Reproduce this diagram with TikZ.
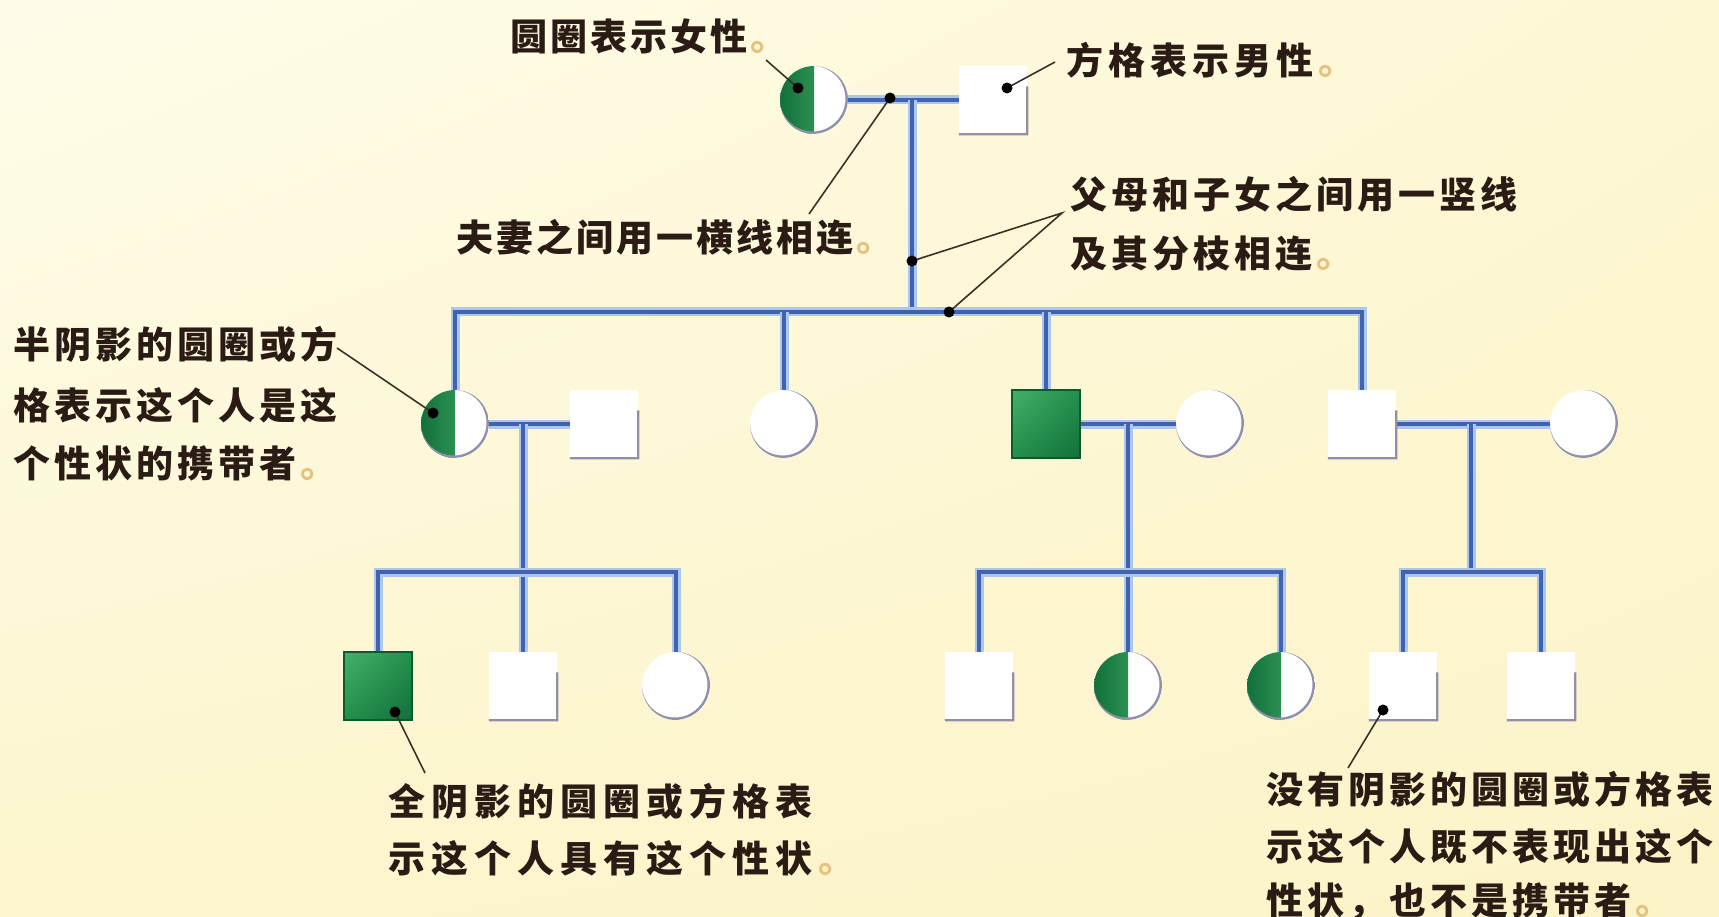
\documentclass[tikz,border=0pt]{standalone}
\usepackage{fontspec}
\newfontfamily\cjk{Noto Sans CJK SC}
\usetikzlibrary{calc,shadings}
\pgfdeclarelayer{bg}
\pgfdeclarelayer{ln}
\pgfsetlayers{bg,ln,main}
\definecolor{bgA}{HTML}{FFFDEA}
\definecolor{bgB}{HTML}{FDF7D4}
\definecolor{bgC}{HTML}{FCF5CE}
\definecolor{bgD}{HTML}{FCF3C8}
\definecolor{gDark}{HTML}{12703A}
\definecolor{gMid}{HTML}{23904C}
\definecolor{gLight}{HTML}{45B06A}
\definecolor{gEdge}{HTML}{0B5A2C}
\definecolor{pedcore}{HTML}{4262B0}
\definecolor{pedhalo}{HTML}{ABC8EC}
\definecolor{shd}{HTML}{9090AA}
\definecolor{txt}{HTML}{2A1C14}
\definecolor{dotc}{HTML}{E6C27E}
\definecolor{ptr}{HTML}{3A3226}
\makeatletter
\newcommand\spr[2]{\@tfor\@ch:=#2\do{\makebox[#1][l]{\@ch}}}
\makeatother
\newcommand\jd{\textcolor{dotc}{。}}
\newcommand\circshadow{\draw[shd,line width=2.4pt] ([xshift=-1.3pt,yshift=1.3pt]path picture bounding box.center) circle[radius=34pt];}
\begin{document}
\begin{tikzpicture}[x=1pt,y=-1pt,
  fem/.style={circle, minimum size=68pt, inner sep=0pt, fill=white, path picture={\circshadow}},
  halffem/.style={circle, minimum size=68pt, inner sep=0pt, fill=white,
    path picture={\shade[left color=gDark, right color=gLight] (path picture bounding box.south west) rectangle (path picture bounding box.north); \circshadow}},
  mal/.style={rectangle, minimum size=68pt, inner sep=0pt, fill=white},
  fullmal/.style={rectangle, minimum size=68pt, inner sep=0pt, draw=gEdge, line width=1.2pt,
    upper left=gLight, upper right=gMid, lower left=gMid, lower right=gDark},
  ped/.style={line width=3.2pt, draw=pedcore, preaction={draw=pedhalo, line width=9pt}},
  ptrline/.style={draw=ptr, line width=1.6pt},
  dotm/.style={fill=black},
  lab/.style={anchor=base west, inner sep=0pt, text=txt, font=\cjk\bfseries\fontsize{37pt}{44pt}\selectfont},
]
\useasboundingbox (0,0) rectangle (1719,917);
\begin{pgfonlayer}{bg}
\shade[upper left=bgA, upper right=bgB, lower left=bgC, lower right=bgD] (0,0) rectangle (1719,917);
\end{pgfonlayer}

% generation 1
\node[halffem] (F1) at (814,100) {};
\node[mal] (M1) at (993,100) {};
% generation 2
\node[halffem] (C1) at (455,424) {};
\node[mal] (S1) at (604,424) {};
\node[fem] (C2) at (784,424) {};
\node[fullmal] (S2) at (1046,424) {};
\node[fem] (C3) at (1210,424) {};
\node[mal] (S3) at (1362,424) {};
\node[fem] (C4) at (1584,424) {};
% generation 3
\node[fullmal] (G1) at (378,686) {};
\node[mal] (G2) at (523,686) {};
\node[fem] (G3) at (676,686) {};
\node[mal] (H1) at (979,686) {};
\node[halffem] (H2) at (1128,686) {};
\node[halffem] (H3) at (1281,686) {};
\node[mal] (K1) at (1403,686) {};
\node[mal] (K2) at (1541,686) {};

% square shadows
\foreach \n in {M1,S1,S3,G2,H1,K1,K2}
  \draw[shd, line width=2.2pt] ($(\n.north east)!0.3!(\n.south east)$) -- (\n.south east) -- (\n.south west);

% junctions
\coordinate (m1) at (912,100);
\coordinate (b1) at (912,312);
\coordinate (m2) at (523,424);
\coordinate (b2) at (523,572);
\coordinate (m3) at (1128,424);
\coordinate (b3) at (1128,572);
\coordinate (m4) at (1471,424);
\coordinate (b4) at (1471,572);

\begin{pgfonlayer}{ln}
\draw[ped] (F1) -- (M1);
\draw[ped] (m1) -- (b1);
\draw[ped] (C1.north) -- (C1.north |- b1) -- (S3.north |- b1) -- (S3.north);
\draw[ped] (C2.north) -- (C2.north |- b1);
\draw[ped] (S2.north) -- (S2.north |- b1);
\draw[ped] (C1) -- (S1);
\draw[ped] (S2) -- (C3);
\draw[ped] (S3) -- (C4);
\draw[ped] (m2) -- (G2.north);
\draw[ped] (G1.north) -- (G1.north |- b2) -- (G3.north |- b2) -- (G3.north);
\draw[ped] (m3) -- (H2.north);
\draw[ped] (H1.north) -- (H1.north |- b3) -- (H3.north |- b3) -- (H3.north);
\draw[ped] (m4) -- (b4);
\draw[ped] (K1.north) -- (K1.north |- b4) -- (K2.north |- b4) -- (K2.north);
\end{pgfonlayer}

% labels
\node[lab] (t1) at (510,51) {\spr{40pt}{圆圈表示女性}\jd};
\node[lab] (t2) at (1066,75) {\spr{42pt}{方格表示男性}\jd};
\node[lab] (t3) at (456,252) {\spr{40pt}{夫妻之间用一横线相连}\jd};
\node[lab] (t4a) at (1070,209) {\spr{41pt}{父母和子女之间用一竖线}};
\node[lab] (t4b) at (1070,268) {\spr{41pt}{及其分枝相连}\jd};
\node[lab] (t5a) at (13,358) {\spr{41pt}{半阴影的圆圈或方}};
\node[lab] (t5b) at (13,419) {\spr{41pt}{格表示这个人是这}};
\node[lab] (t5c) at (13,477) {\spr{41pt}{个性状的携带者}\jd};
\node[lab] (t6a) at (388,815) {\spr{43pt}{全阴影的圆圈或方格表}};
\node[lab] (t6b) at (388,872) {\spr{43pt}{示这个人具有这个性状}\jd};
\node[lab] (t7a) at (1266,803) {\spr{41pt}{没有阴影的圆圈或方格表}};
\node[lab] (t7b) at (1266,860) {\spr{41pt}{示这个人既不表现出这个}};
\node[lab] (t7c) at (1266,914) {\spr{41pt}{性状，也不是携带者}\jd};

% pointers
\coordinate (p1) at (766,60);   \coordinate (d1) at (798,88);
\coordinate (p2) at (1055,62);  \coordinate (d2) at (1007,88);
\coordinate (p3) at (809,214);  \coordinate (d3) at (890,98);
\coordinate (p4) at (1062,213); \coordinate (d4a) at (912,261); \coordinate (d4b) at (949,312);
\coordinate (p5) at (337,348);  \coordinate (d5) at (433,413);
\coordinate (p6) at (425,773);  \coordinate (d6) at (395,712);
\coordinate (p7) at (1348,768); \coordinate (d7) at (1383,710);
\draw[ptrline] (p1) -- (d1);
\draw[ptrline] (p2) -- (d2);
\draw[ptrline] (p3) -- (d3);
\draw[ptrline] (d4a) -- (p4) -- (d4b);
\draw[ptrline] (p5) -- (d5);
\draw[ptrline] (p6) -- (d6);
\draw[ptrline] (p7) -- (d7);
\foreach \d in {d1,d2,d3,d4a,d4b,d5,d6,d7}
  \fill[dotm] (\d) circle[radius=5.5pt];
\end{tikzpicture}
\end{document}
